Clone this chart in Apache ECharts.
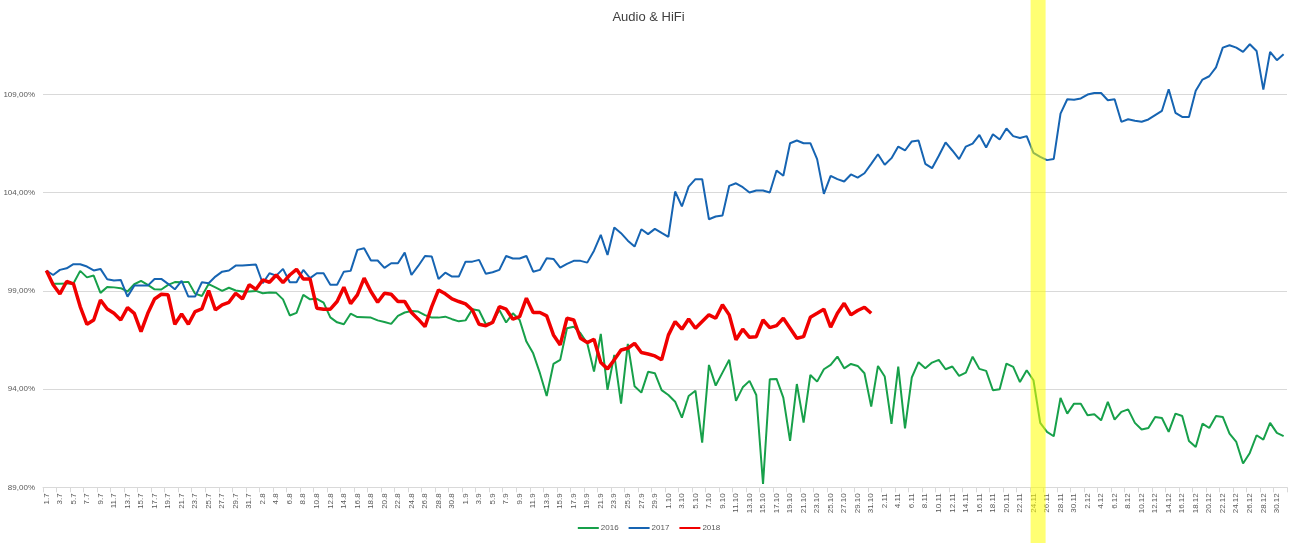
<!DOCTYPE html>
<html>
<head>
<meta charset="utf-8">
<script src="https://cdn.jsdelivr.net/npm/echarts@6/dist/echarts.min.js"></script>
<style>
html,body{margin:0;padding:0;background:#fff;}
#chart{width:1297px;height:543px;}
</style>
</head>
<body>
<div id="chart"></div>
<script>
const chartTitle = 'Audio & HiFi';
const seriesNames = ['2016', '2017', '2018'];

const categories = [
'1.7','2.7','3.7','4.7','5.7','6.7','7.7','8.7','9.7','10.7','11.7','12.7','13.7','14.7','15.7','16.7','17.7','18.7','19.7','20.7','21.7','22.7','23.7','24.7','25.7','26.7','27.7','28.7','29.7','30.7','31.7',
'1.8','2.8','3.8','4.8','5.8','6.8','7.8','8.8','9.8','10.8','11.8','12.8','13.8','14.8','15.8','16.8','17.8','18.8','19.8','20.8','21.8','22.8','23.8','24.8','25.8','26.8','27.8','28.8','29.8','30.8','31.8',
'1.9','2.9','3.9','4.9','5.9','6.9','7.9','8.9','9.9','10.9','11.9','12.9','13.9','14.9','15.9','16.9','17.9','18.9','19.9','20.9','21.9','22.9','23.9','24.9','25.9','26.9','27.9','28.9','29.9','30.9',
'1.10','2.10','3.10','4.10','5.10','6.10','7.10','8.10','9.10','10.10','11.10','12.10','13.10','14.10','15.10','16.10','17.10','18.10','19.10','20.10','21.10','22.10','23.10','24.10','25.10','26.10','27.10','28.10','29.10','30.10','31.10',
'1.11','2.11','3.11','4.11','5.11','6.11','7.11','8.11','9.11','10.11','11.11','12.11','13.11','14.11','15.11','16.11','17.11','18.11','19.11','20.11','21.11','22.11','23.11','24.11','25.11','26.11','27.11','28.11','29.11','30.11',
'1.12','2.12','3.12','4.12','5.12','6.12','7.12','8.12','9.12','10.12','11.12','12.12','13.12','14.12','15.12','16.12','17.12','18.12','19.12','20.12','21.12','22.12','23.12','24.12','25.12','26.12','27.12','28.12','29.12','30.12','31.12'
];

const values2016 = [
100.0,99.37,99.37,99.38,99.38,100.02,99.69,99.78,98.9,99.2,99.18,99.14,98.97,99.34,99.51,99.31,99.08,99.07,99.31,99.45,99.44,99.46,98.86,98.74,99.35,99.18,99.0,99.16,99.02,98.97,98.97,
99.0,98.88,98.92,98.9,98.57,97.75,97.88,98.8,98.57,98.6,98.4,97.65,97.4,97.3,97.84,97.67,97.66,97.64,97.5,97.42,97.32,97.73,97.9,97.98,97.95,97.77,97.64,97.64,97.69,97.56,97.45,
97.5,98.07,98.0,97.3,97.42,98.03,97.39,97.86,97.52,96.42,95.82,94.81,93.65,95.28,95.49,97.1,97.18,96.84,96.33,94.89,96.81,93.96,95.74,93.26,96.3,94.14,93.82,94.88,94.81,93.95,
93.7,93.36,92.55,93.65,93.92,91.27,95.23,94.18,94.84,95.49,93.4,94.09,94.42,93.7,89.17,94.5,94.52,93.57,91.36,94.26,92.29,94.72,94.38,95.01,95.23,95.66,95.06,95.28,95.18,94.81,93.11,
95.18,94.64,92.23,95.15,92.0,94.59,95.37,95.06,95.35,95.49,95.01,95.15,94.67,94.84,95.65,95.03,94.93,93.94,93.99,95.3,95.13,94.36,94.96,94.45,92.28,91.82,91.6,93.55,92.75,93.26,
93.26,92.67,92.72,92.41,93.35,92.45,92.84,92.97,92.28,91.94,92.02,92.58,92.53,91.82,92.75,92.63,91.36,91.05,92.24,92.02,92.63,92.58,91.73,91.31,90.21,90.75,91.65,91.43,92.28,91.77,91.61
];

const values2017 = [
100.04,99.81,100.07,100.15,100.36,100.36,100.24,100.04,100.12,99.59,99.53,99.56,98.71,99.27,99.27,99.27,99.61,99.61,99.36,99.08,99.51,98.71,98.71,99.44,99.39,99.73,99.98,100.04,100.29,100.29,100.32,
100.34,99.39,99.9,99.78,100.12,99.44,99.44,100.07,99.65,99.9,99.9,99.31,99.31,99.98,100.02,101.09,101.17,100.55,100.55,100.17,100.41,100.41,100.95,99.81,100.27,100.78,100.75,99.61,99.93,99.73,99.73,
100.49,100.49,100.58,99.87,99.95,100.07,100.78,100.65,100.65,100.78,99.98,100.07,100.66,100.63,100.19,100.38,100.53,100.53,100.44,101.05,101.85,100.83,102.23,101.94,101.56,101.26,102.14,101.89,102.16,101.95,
101.75,104.06,103.3,104.31,104.69,104.69,102.65,102.79,102.84,104.35,104.48,104.28,104.01,104.11,104.11,104.01,105.13,104.86,106.52,106.66,106.52,106.52,105.71,103.94,104.86,104.69,104.57,104.93,104.77,104.99,105.47,
105.96,105.42,105.76,106.35,106.15,106.61,106.66,105.47,105.25,105.88,106.56,106.15,105.71,106.35,106.5,106.94,106.3,106.98,106.71,107.27,106.88,106.79,106.88,106.03,105.83,105.66,105.72,108.03,108.76,108.73,
108.8,109.0,109.08,109.08,108.71,108.76,107.61,107.74,107.66,107.61,107.73,107.95,108.17,109.27,108.07,107.86,107.86,109.19,109.76,109.93,110.38,111.39,111.51,111.39,111.17,111.56,111.22,109.25,111.17,110.75,111.05
];

const values2018 = [
100.04,99.31,98.85,99.48,99.36,98.2,97.3,97.52,98.54,98.08,97.86,97.52,98.15,97.86,96.93,97.86,98.59,98.83,98.8,97.3,97.83,97.3,97.95,98.08,99.02,98.03,98.29,98.42,98.88,98.59,99.31,
99.08,99.56,99.44,99.81,99.42,99.81,100.1,99.61,99.61,98.12,98.07,98.07,98.46,99.19,98.35,98.8,99.65,98.97,98.42,98.88,98.83,98.46,98.46,97.9,97.56,97.18,98.2,99.05,98.85,98.59,98.46,
98.34,98.03,97.3,97.23,97.39,98.2,98.07,97.56,97.69,98.63,97.9,97.9,97.73,96.76,96.25,97.61,97.52,96.59,96.37,96.54,95.35,95.03,95.49,95.99,96.08,96.33,95.86,95.79,95.69,95.49,
96.75,97.44,97.05,97.57,97.1,97.44,97.78,97.61,98.29,97.78,96.51,97.05,96.64,96.67,97.52,97.13,97.23,97.61,97.1,96.59,96.67,97.66,97.86,98.07,97.15,97.86,98.37,97.78,98.0,98.17,97.86
];

const yMin = 89, yMax = 112, yStep = 5;
const highlightFrom = '24.11', highlightTo = '25.11';

const colors = ['#17a04a', '#1664b2', '#f00000'];
const FONT = 'Liberation Sans';

const chart = echarts.init(document.getElementById('chart'), null, {renderer: 'canvas'});
const option = {
  animation: false,
  backgroundColor: '#ffffff',
  color: colors,
  title: {
    text: chartTitle,
    left: 'center',
    top: 6,
    textStyle: {fontFamily: FONT, fontSize: 13, fontWeight: 'normal', color: '#404040'}
  },
  legend: {
    data: seriesNames,
    bottom: 6,
    left: 'center',
    itemWidth: 21,
    itemHeight: 8,
    itemGap: 9,
    itemStyle: {opacity: 0},
    textStyle: {fontFamily: FONT, fontSize: 8, color: '#595959', padding: [0,0,0,-3]}
  },
  grid: {left: 43, right: 10, top: 35.6, bottom: 55.7, containLabel: false},
  xAxis: {
    type: 'category',
    data: categories,
    boundaryGap: true,
    axisLine: {show: true, lineStyle: {color: '#d9d9d9', width: 1}},
    axisTick: {show: true, interval: 1, length: 5, alignWithLabel: false, lineStyle: {color: '#d9d9d9'}},
    axisLabel: {interval: 1, rotate: 90, fontFamily: FONT, fontSize: 8, color: '#595959', margin: 6}
  },
  yAxis: {
    type: 'value',
    min: yMin,
    max: yMax,
    interval: yStep,
    axisLine: {show: false},
    axisTick: {show: false},
    splitLine: {show: true, showMaxLine: false, lineStyle: {color: '#d9d9d9', width: 1}},
    axisLabel: {
      showMaxLabel: false,
      fontFamily: FONT, fontSize: 8, color: '#595959', margin: 8,
      formatter: v => v.toFixed(2).replace('.', ',') + '%'
    }
  },
  series: [
    {name: seriesNames[0], type: 'line', data: values2016, symbol: 'none', lineStyle: {width: 2}, z: 2},
    {name: seriesNames[1], type: 'line', data: values2017, symbol: 'none', lineStyle: {width: 2}, z: 3},
    {name: seriesNames[2], type: 'line', data: values2018, symbol: 'none', lineStyle: {width: 3.5}, z: 4}
  ]
};
chart.setOption(option);

const xa = chart.convertToPixel({xAxisIndex: 0}, highlightFrom);
const xb = chart.convertToPixel({xAxisIndex: 0}, highlightTo);
const step = chart.convertToPixel({xAxisIndex: 0}, categories[1]) - chart.convertToPixel({xAxisIndex: 0}, categories[0]);
const bandX = xa - step / 2 + 0.5;
const bandW = (xb - xa) + step + 1.5;
chart.setOption({
  graphic: [{
    type: 'rect',
    z: 100,
    silent: true,
    shape: {x: bandX, y: 0, width: bandW, height: 543},
    style: {fill: 'rgba(255,255,0,0.55)'}
  }]
});
</script>
</body>
</html>
